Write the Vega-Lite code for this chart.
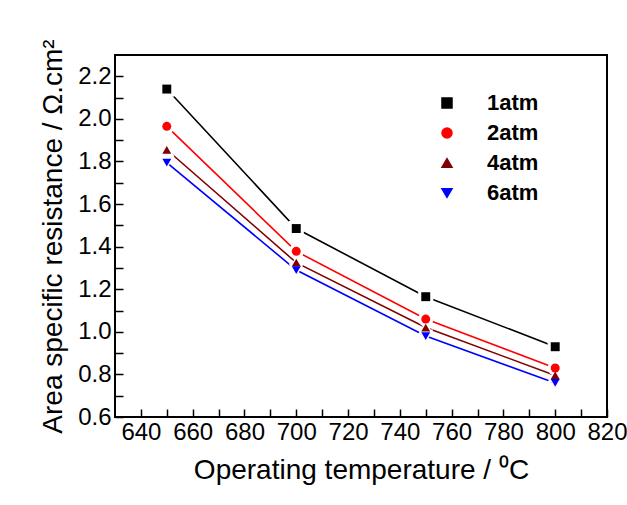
{
  "$schema": "https://vega.github.io/schema/vega-lite/v6.json",
  "width": 492,
  "height": 362,
  "autosize": {"type": "none"},
  "padding": {"left": 115, "top": 55, "right": 20, "bottom": 88},
  "background": "white",
  "config": {
    "view": {"stroke": "black", "strokeWidth": 2},
    "font": "Liberation Sans",
    "axis": {
      "domain": false,
      "grid": false,
      "tickColor": "black",
      "tickWidth": 1.5,
      "labelColor": "black",
      "titleColor": "black",
      "labelFont": "Liberation Sans",
      "titleFont": "Liberation Sans",
      "labelFontSize": 24,
      "titleFontSize": 28,
      "titleFontWeight": "normal"
    }
  },
  "data": {
    "values": [
      {"T": 650, "ASR": 2.14, "p": "1atm"},
      {"T": 700, "ASR": 1.485, "p": "1atm"},
      {"T": 750, "ASR": 1.165, "p": "1atm"},
      {"T": 800, "ASR": 0.93, "p": "1atm"},
      {"T": 650, "ASR": 1.965, "p": "2atm"},
      {"T": 700, "ASR": 1.378, "p": "2atm"},
      {"T": 750, "ASR": 1.06, "p": "2atm"},
      {"T": 800, "ASR": 0.83, "p": "2atm"},
      {"T": 650, "ASR": 1.855, "p": "4atm"},
      {"T": 700, "ASR": 1.325, "p": "4atm"},
      {"T": 750, "ASR": 1.02, "p": "4atm"},
      {"T": 800, "ASR": 0.795, "p": "4atm"},
      {"T": 650, "ASR": 1.795, "p": "6atm"},
      {"T": 700, "ASR": 1.29, "p": "6atm"},
      {"T": 750, "ASR": 0.98, "p": "6atm"},
      {"T": 800, "ASR": 0.76, "p": "6atm"}
    ]
  },
  "encoding": {
    "x": {
      "field": "T", "type": "quantitative",
      "scale": {"domain": [630, 820], "nice": false, "zero": false},
      "axis": {
        "title": "Operating temperature / ⁰C",
        "values": [640, 650, 660, 670, 680, 690, 700, 710, 720, 730, 740, 750, 760, 770, 780, 790, 800, 810, 820],
        "labelExpr": "datum.value % 20 == 0 ? datum.label : ''",
        "labelFontSize": 24,
        "titleFontSize": 28,
        "tickSize": -8,
        "labelPadding": 11,
        "titlePadding": 12,
        "labelFlush": false,
        "encode": {"ticks": {"y2": {"value": {"expr": "datum.value % 20 == 0 ? -8 : -5"}}}}
      }
    },
    "y": {
      "field": "ASR", "type": "quantitative",
      "scale": {"domain": [0.6, 2.3], "nice": false, "zero": false},
      "axis": {
        "title": "Area specific resistance / Ω.cm²",
        "values": [0.6, 0.7, 0.8, 0.9, 1.0, 1.1, 1.2, 1.3, 1.4, 1.5, 1.6, 1.7, 1.8, 1.9, 2.0, 2.1, 2.2],
        "labelExpr": "round(datum.value * 10) % 2 == 0 ? format(datum.value, '.1f') : ''",
        "labelFontSize": 24,
        "titleFontSize": 28,
        "tickSize": -8,
        "labelPadding": 12,
        "titlePadding": 10,
        "labelFlush": false,
        "encode": {"ticks": {"x2": {"value": {"expr": "round(datum.value * 10) % 2 == 0 ? 8 : 5"}}}}
      }
    }
  },
  "layer": [
    {
      "mark": {"type": "line", "strokeWidth": 1.6},
      "encoding": {
        "color": {
          "field": "p", "type": "nominal",
          "scale": {"domain": ["1atm", "2atm", "4atm", "6atm"], "range": ["#000000", "#ff0000", "#800000", "#0000ff"]}
        }
      }
    },
    {
      "mark": {"type": "point", "filled": true, "opacity": 1, "size": 230, "color": "white"},
      "encoding": {
        "shape": {"field": "p", "type": "nominal", "legend": null,
          "scale": {"domain": ["1atm", "2atm", "4atm", "6atm"], "range": ["square", "circle", "triangle-up", "triangle-down"]}}
      }
    },
    {
      "mark": {"type": "point", "filled": true, "opacity": 1, "size": 80},
      "encoding": {
        "color": {
          "field": "p", "type": "nominal",
          "scale": {"domain": ["1atm", "2atm", "4atm", "6atm"], "range": ["#000000", "#ff0000", "#800000", "#0000ff"]},
          "legend": {
            "title": null,
            "orient": "none",
            "legendX": 321,
            "legendY": 37,
            "padding": 0,
            "labelFont": "Liberation Sans",
            "labelFontSize": 22,
            "labelFontWeight": "bold",
            "labelColor": "black",
            "symbolSize": 100,
            "labelOffset": 29,
            "rowPadding": 8,
            "encode": {
              "symbols": {
                "shape": {"value": {"expr": "datum.value == '1atm' ? 'M-5.6,0H-1.8M1.8,0H5.6M-0.8,-0.8H0.8V0.8H-0.8Z' : datum.value == '2atm' ? 'M-5.6,0H-1.8M1.8,0H5.6M-1,0A1,1,0,1,0,1,0A1,1,0,1,0,-1,0Z' : datum.value == '4atm' ? 'M-5.6,0H-1.8M1.8,0H5.6M0,-1.05L1.1,0.8L-1.1,0.8Z' : 'M-5.6,0H-1.8M1.8,0H5.6M0,1.05L1.1,-0.8L-1.1,-0.8Z'"}},
                "stroke": {"value": {"expr": "scale('color', datum.value)"}},
                "fill": {"value": {"expr": "scale('color', datum.value)"}},
                "strokeWidth": {"value": 1.5},
                "opacity": {"value": 1}
              }
            }
          }
        },
        "shape": {"field": "p", "type": "nominal", "legend": null,
          "scale": {"domain": ["1atm", "2atm", "4atm", "6atm"], "range": ["square", "circle", "triangle-up", "triangle-down"]}}
      }
    }
  ]
}
